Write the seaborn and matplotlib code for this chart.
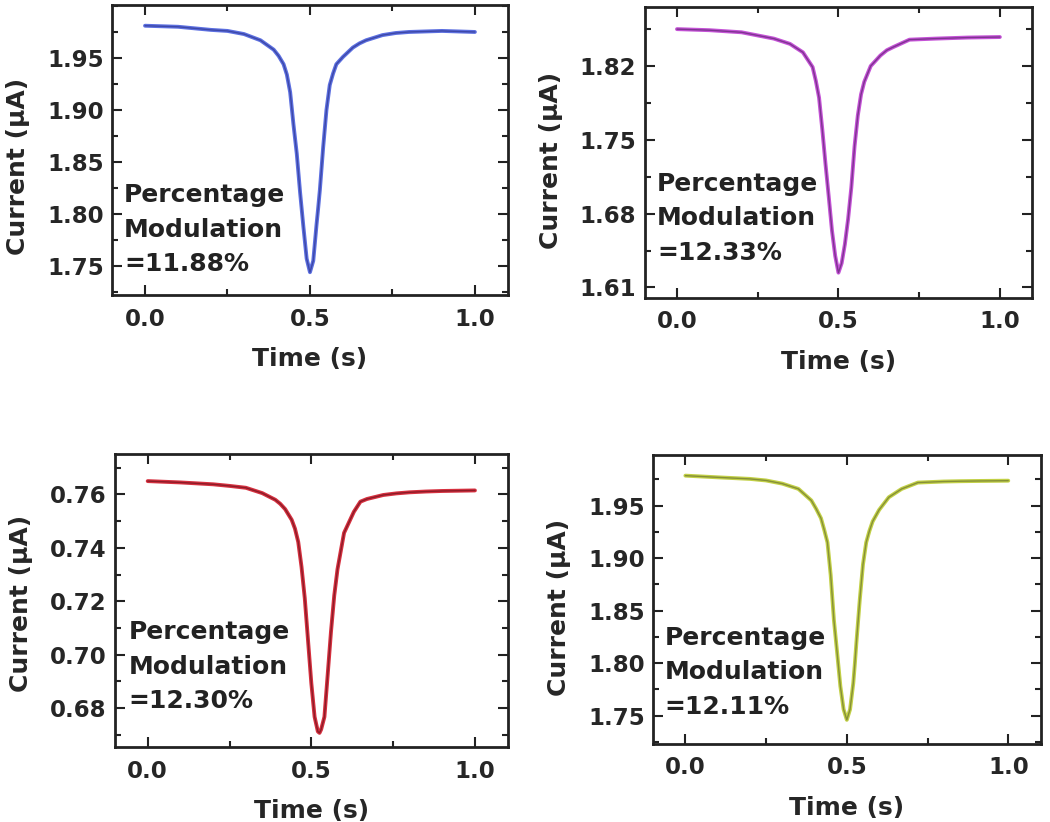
import numpy as np
import pandas as pd
import seaborn as sns
import matplotlib.pyplot as plt
from matplotlib.ticker import FixedLocator, MultipleLocator, FormatStrFormatter

# shared time grid (s)
time_s = [0.0, 0.1, 0.2, 0.25, 0.3, 0.35, 0.39, 0.405, 0.42, 0.43, 0.44, 0.45,
          0.46, 0.47, 0.48, 0.49, 0.50, 0.51, 0.52, 0.525, 0.53, 0.54, 0.55, 0.56,
          0.57, 0.58, 0.60, 0.63, 0.65, 0.67, 0.72, 0.76, 0.8, 0.85, 0.9, 1.0]

# current (uA) per panel
cur_blue = [1.981, 1.980, 1.977, 1.976, 1.973, 1.967, 1.958, 1.952, 1.944, 1.934,
            1.917, 1.886, 1.858, 1.821, 1.788, 1.757, 1.744, 1.755, 1.790, 1.806,
            1.823, 1.864, 1.900, 1.924, 1.935, 1.944, 1.951, 1.960, 1.964, 1.967,
            1.972, 1.974, 1.975, 1.9755, 1.976, 1.975]
cur_purple = [1.855, 1.854, 1.852, 1.849, 1.846, 1.841, 1.833, 1.826, 1.819, 1.806,
              1.790, 1.760, 1.727, 1.696, 1.664, 1.640, 1.624, 1.633, 1.651, 1.663,
              1.675, 1.705, 1.744, 1.773, 1.793, 1.805, 1.820, 1.830, 1.835, 1.838,
              1.845, 1.8455, 1.846, 1.8465, 1.847, 1.8475]
cur_red = [0.7650, 0.7645, 0.7638, 0.7632, 0.7625, 0.7605, 0.7580, 0.7565, 0.7545,
           0.7525, 0.7505, 0.7472, 0.7422, 0.7329, 0.7211, 0.7052, 0.6893, 0.6767,
           0.6712, 0.6707, 0.6720, 0.6767, 0.6925, 0.7085, 0.7221, 0.7320, 0.7456,
           0.7535, 0.7573, 0.7583, 0.7598, 0.7604, 0.7608, 0.7611, 0.7613, 0.7615]
cur_green = [1.9786, 1.977, 1.9755, 1.974, 1.971, 1.966, 1.955, 1.947, 1.938, 1.927,
             1.915, 1.884, 1.841, 1.810, 1.778, 1.756, 1.746, 1.756, 1.781, 1.800,
             1.821, 1.860, 1.894, 1.915, 1.926, 1.935, 1.946, 1.958, 1.962, 1.966,
             1.972, 1.9725, 1.973, 1.9733, 1.9735, 1.9738]

labels = ["Percentage\nModulation\n=11.88%", "Percentage\nModulation\n=12.33%",
          "Percentage\nModulation\n=12.30%", "Percentage\nModulation\n=12.11%"]

yticks = [[1.75, 1.80, 1.85, 1.90, 1.95], [1.61, 1.68, 1.75, 1.82],
          [0.68, 0.70, 0.72, 0.74, 0.76], [1.75, 1.80, 1.85, 1.90, 1.95]]
ylims = [(1.722, 2.001), (1.600, 1.876), (0.6654, 0.775), (1.723, 1.9986)]
yminor = [0.025, 0.035, 0.01, 0.025]
halo = ["#5c6fe0", "#c452d6", "#d6303f", "#c2d046"]
core = ["#3d48a8", "#7e3490", "#8c1c28", "#858f38"]

sns.set_theme(style="ticks")
plt.rcParams["font.family"] = ["DejaVu Sans"]
plt.rcParams["font.weight"] = "bold"
plt.rcParams["axes.labelweight"] = "bold"

fig = plt.figure(figsize=(10.5, 8.22), dpi=100)
boxes = [[0.1067, 0.641, 0.377, 0.353], [0.614, 0.6375, 0.369, 0.354],
         [0.1095, 0.0912, 0.374, 0.356], [0.622, 0.0949, 0.369, 0.352]]
text_pos = [(0.03, 0.065), (0.032, 0.115), (0.035, 0.115), (0.03, 0.088)]
ylabel_y = [0.445, 0.474, 0.49, 0.472]

series = [cur_blue, cur_purple, cur_red, cur_green]
for i in range(4):
    ax = fig.add_axes(boxes[i])
    df = pd.DataFrame({"Time (s)": time_s, "Current": series[i]})
    sns.lineplot(data=df, x="Time (s)", y="Current", ax=ax, color=halo[i], lw=2.8)
    sns.lineplot(data=df, x="Time (s)", y="Current", ax=ax, color=core[i], lw=1.0)
    ax.set_xlim(-0.1, 1.1)
    ax.set_ylim(*ylims[i])
    ax.xaxis.set_major_locator(FixedLocator([0.0, 0.5, 1.0]))
    ax.xaxis.set_minor_locator(MultipleLocator(0.25))
    ax.xaxis.set_major_formatter(FormatStrFormatter("%.1f"))
    ax.yaxis.set_major_locator(FixedLocator(yticks[i]))
    ax.yaxis.set_minor_locator(MultipleLocator(yminor[i]))
    ax.yaxis.set_major_formatter(FormatStrFormatter("%.2f"))
    ax.tick_params(which="both", direction="in", top=True, right=True,
                   color="#222222", width=1.5)
    ax.tick_params(which="major", length=7, labelsize=16.5)
    ax.tick_params(which="minor", length=4)
    ax.tick_params(axis="x", pad=9)
    ax.tick_params(axis="y", pad=6)
    for s in ax.spines.values():
        s.set_linewidth(2)
        s.set_color("#222222")
    ax.set_xlabel("Time (s)", fontsize=18, labelpad=12)
    ax.set_ylabel("Current (\u03bcA)", fontsize=18, labelpad=12)
    ax.yaxis.label.set_y(ylabel_y[i])
    ax.text(text_pos[i][0], text_pos[i][1], labels[i], transform=ax.transAxes,
            fontsize=18, fontweight="bold", ha="left", va="bottom",
            linespacing=1.55, color="#222222")

fig.savefig("out.png", dpi=100)
